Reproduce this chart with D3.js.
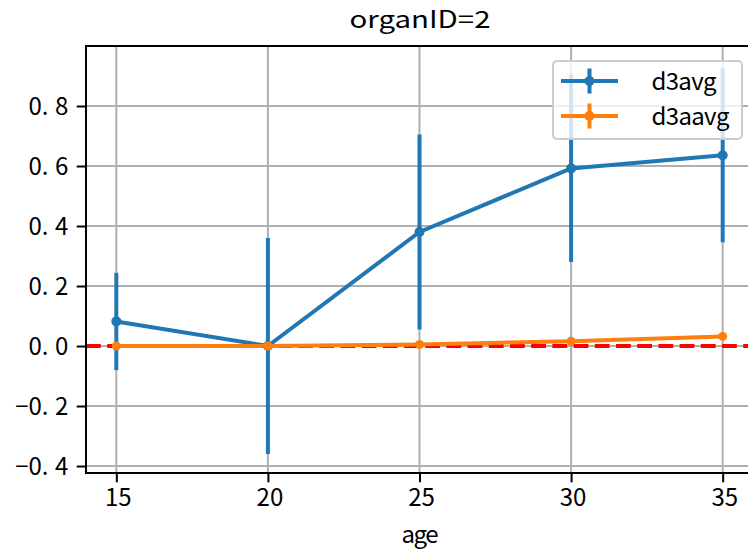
<!DOCTYPE html>
<html>
<head>
<meta charset="utf-8">
<script src="https://cdn.jsdelivr.net/npm/d3@7"></script>
<style>
    body { margin: 0; background: white; }
    text { font-family: "Noto Sans CJK SC", sans-serif; fill: black; }
</style>
</head>
<body>
<svg id="svg"></svg>
<script>
const ages = [15, 20, 25, 30, 35]
const d3avg = [0.082, 0.0, 0.38, 0.592, 0.636]
const d3avgErr = [0.162, 0.36, 0.325, 0.312, 0.29]
const d3aavg = [0.0, 0.0, 0.005, 0.016, 0.032]
const d3aavgErr = [0.008, 0.008, 0.008, 0.008, 0.008]
const xTicks = [15, 20, 25, 30, 35]
const yTicks = [-0.4, -0.2, 0.0, 0.2, 0.4, 0.6, 0.8]
const seriesNames = ["d3avg", "d3aavg"]
const colors = ["#1f77b4", "#ff7f0e"]

const svg = d3.select("#svg")
    .attr("width", 748)
    .attr("height", 549)

const plotLeft = 86, plotTop = 46, plotBottom = 473, plotRight = 753
const cell = 13.3   // the original font is monospaced: every half-width char takes one cell

const x = d3.scaleLinear()
    .domain([14, 36])
    .range([plotLeft, plotRight])

const y = d3.scaleLinear()
    .domain([-0.4233, 1.0])
    .range([plotBottom, plotTop])

// lays a string out char by char in fixed cells, keeps it one text element
function monoText(textSel, str, xStart, step) {
    textSel.text(null).attr("text-anchor", "start")
    str.split("").forEach((ch, i) => {
        textSel.append("tspan")
            .attr("x", xStart + i * step)
            .text(ch)
    })
}

svg.append("defs").append("clipPath")
    .attr("id", "plot")
    .append("rect")
    .attr("x", plotLeft).attr("y", plotTop)
    .attr("width", plotRight - plotLeft).attr("height", plotBottom - plotTop)

// grid
const grid = svg.append("g")
    .attr("stroke", "#b0b0b0")
    .attr("stroke-width", 2)
xTicks.forEach(t => {
    grid.append("line")
        .attr("x1", x(t)).attr("x2", x(t))
        .attr("y1", plotTop).attr("y2", plotBottom)
})
yTicks.forEach(t => {
    grid.append("line")
        .attr("x1", plotLeft).attr("x2", plotRight)
        .attr("y1", y(t)).attr("y2", y(t))
})

const plot = svg.append("g").attr("clip-path", "url(#plot)")

// zero line
plot.append("line")
    .attr("x1", plotLeft).attr("x2", plotRight)
    .attr("y1", y(0)).attr("y2", y(0))
    .attr("stroke", "red")
    .attr("stroke-width", 4)
    .attr("stroke-dasharray", "14.8,6.4")

const series = [
    { values: d3avg, errors: d3avgErr, r: 5 },
    { values: d3aavg, errors: d3aavgErr, r: 4.5 }
]

series.forEach((s, i) => {
    const g = plot.append("g")
    const pts = ages.map((a, j) => [a, s.values[j], s.errors[j]])
    g.append("path")
        .datum(pts)
        .attr("fill", "none")
        .attr("stroke", colors[i])
        .attr("stroke-width", 4)
        .attr("stroke-linejoin", "round")
        .attr("d", d3.line().x(d => x(d[0])).y(d => y(d[1])))
    g.selectAll(".err")
        .data(pts)
        .join("line")
        .attr("x1", d => x(d[0])).attr("x2", d => x(d[0]))
        .attr("y1", d => y(d[1] - d[2])).attr("y2", d => y(d[1] + d[2]))
        .attr("stroke", colors[i])
        .attr("stroke-width", 4)
    g.selectAll("circle")
        .data(pts)
        .join("circle")
        .attr("cx", d => x(d[0]))
        .attr("cy", d => y(d[1]))
        .attr("r", s.r)
        .attr("fill", colors[i])
})

// spines (right spine falls outside the picture)
svg.append("path")
    .attr("d", `M${plotRight},${plotTop}H${plotLeft}V${plotBottom}H${plotRight}`)
    .attr("fill", "none")
    .attr("stroke", "black")
    .attr("stroke-width", 2)

// axes
const xAxis = svg.append("g")
    .attr("transform", `translate(0,${plotBottom})`)
    .call(d3.axisBottom(x).tickValues(xTicks).tickSize(9.3).tickFormat(d3.format("d")))
xAxis.select(".domain").remove()
xAxis.selectAll("line").attr("stroke-width", 2)
xAxis.selectAll("text")
    .attr("font-size", 24)
    .attr("dy", 0)
    .attr("y", 33)
    .each(function(d) {
        const s = d3.format("d")(d)
        monoText(d3.select(this), s, -s.length * cell / 2 + 1.5, cell)
    })

const yAxis = svg.append("g")
    .attr("transform", `translate(${plotLeft},0)`)
    .call(d3.axisLeft(y).tickValues(yTicks).tickSize(9.3).tickFormat(d3.format(".1f")))
yAxis.select(".domain").remove()
yAxis.selectAll("line").attr("stroke-width", 2)
yAxis.selectAll("text")
    .attr("font-size", 24)
    .attr("dy", "0.35em")
    .each(function(d) {
        const s = d3.format(".1f")(d).replace("-", "\u2212")
        monoText(d3.select(this), s, -18.6 - s.length * cell + 1, cell)
    })

svg.append("text")
    .attr("x", 349.5)
    .attr("y", 28)
    .attr("font-size", 24)
    .attr("textLength", 141)
    .attr("lengthAdjust", "spacingAndGlyphs")
    .text("organID=2")

svg.append("text")
    .attr("x", 401.5)
    .attr("y", 543)
    .attr("font-size", 24)
    .attr("textLength", 37)
    .attr("lengthAdjust", "spacing")
    .text("age")

// legend
const legend = svg.append("g")
legend.append("rect")
    .attr("x", 553).attr("y", 61)
    .attr("width", 189).attr("height", 78)
    .attr("rx", 4)
    .attr("fill", "white")
    .attr("fill-opacity", 0.8)
    .attr("stroke", "#cccccc")
    .attr("stroke-width", 2)

const legendWidths = [65, 78]
seriesNames.forEach((name, i) => {
    const ly = 81 + i * 35
    legend.append("line")
        .attr("x1", 561).attr("x2", 618)
        .attr("y1", ly).attr("y2", ly)
        .attr("stroke", colors[i])
        .attr("stroke-width", 4)
    legend.append("line")
        .attr("x1", 589.5).attr("x2", 589.5)
        .attr("y1", ly - 12.5).attr("y2", ly + 12.5)
        .attr("stroke", colors[i])
        .attr("stroke-width", 4)
    legend.append("circle")
        .attr("cx", 589.5).attr("cy", ly)
        .attr("r", 5)
        .attr("fill", colors[i])
    legend.append("text")
        .attr("x", 651.5)
        .attr("y", ly + 8.5)
        .attr("font-size", 24)
        .attr("textLength", legendWidths[i])
        .attr("lengthAdjust", "spacing")
        .text(name)
})
</script>
</body>
</html>
